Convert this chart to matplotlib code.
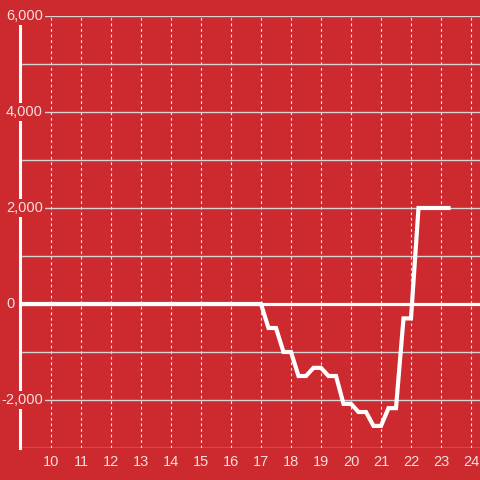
import matplotlib.pyplot as plt

# hour of day vs running balance
hours = [9.0, 17.0, 17.25, 17.5, 17.75, 18.0, 18.25, 18.5, 18.75, 19.0,
         19.25, 19.5, 19.75, 20.0, 20.25, 20.5, 20.75, 21.0, 21.25, 21.5,
         21.75, 22.0, 22.25, 22.5, 23.25]
balance = [0, 0, -500, -500, -1000, -1000, -1500, -1500, -1330, -1330,
           -1500, -1500, -2080, -2080, -2250, -2250, -2540, -2540, -2170, -2170,
           -300, -300, 2000, 2000, 2000]

x_ticks = list(range(10, 25))
y_grid = list(range(-3000, 6001, 1000))
y_label_vals = [6000, 4000, 2000, 0, -2000]
y_label_text = ["6,000", "4,000", "2,000", "0", "-2,000"]

bg = "#cc2a2f"
txt = "#f6dede"

plt.rcParams["font.family"] = ["Liberation Sans", "DejaVu Sans"]

fig = plt.figure(figsize=(4.8, 4.8), dpi=100, facecolor=bg)
ax = fig.add_axes([20 / 480, 32 / 480, 460 / 480, 432 / 480])
ax.set_facecolor(bg)

ax.set_xlim(8.967, 24.3)
ax.set_ylim(-3000, 6000)

# grid
ax.set_yticks(y_grid)
ax.set_yticklabels([])
ax.set_xticks(x_ticks)
ax.set_xticklabels([str(t) for t in x_ticks], color=txt, fontsize=10.5)
ax.tick_params(length=0)
ax.tick_params(axis="x", pad=5)
ax.grid(axis="y", color="#d4d4d4", linewidth=1.0)
ax.grid(axis="x", color="#e8e8e8", linewidth=0.8, linestyle=(0, (2.5, 2.5)))
ax.set_axisbelow(True)

for s in ["top", "right", "bottom"]:
    ax.spines[s].set_visible(False)
ax.spines["left"].set_color("white")
ax.spines["left"].set_linewidth(2.2)

ax.axhline(0, color="white", linewidth=2.3, zorder=1.5)
ax.plot(hours, balance, color="white", linewidth=3, solid_joinstyle="miter",
        zorder=2)

# y labels sit on a background box that hides the axis line
label_x = [9.73, 9.73, 9.73, 8.8, 9.73]
for lx, v, t in zip(label_x, y_label_vals, y_label_text):
    ax.text(lx, v, t, ha="right", va="center", color=txt, fontsize=10.5,
            zorder=4, clip_on=False,
            bbox=dict(facecolor=bg, edgecolor="none", pad=1.5))

fig.savefig("out.png", dpi=100, facecolor=bg)
